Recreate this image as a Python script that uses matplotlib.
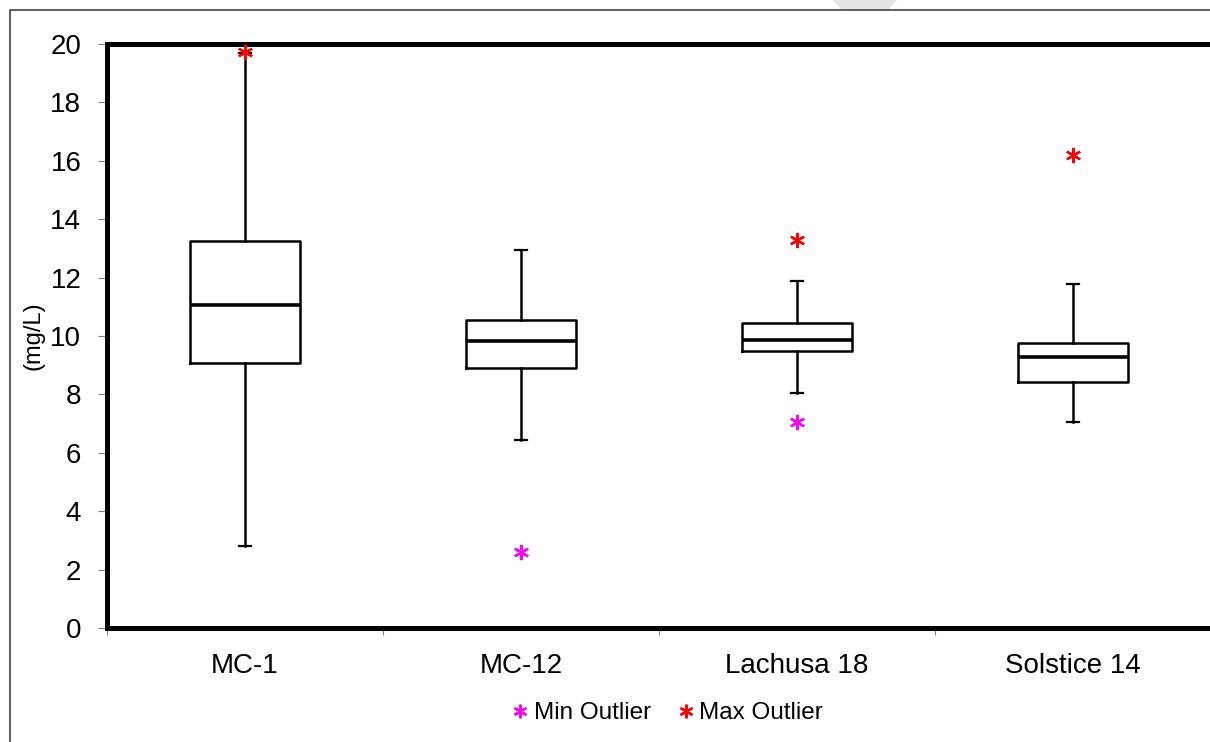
import matplotlib
matplotlib.use("Agg")
import matplotlib.pyplot as plt
from matplotlib.patches import Rectangle, Polygon
from matplotlib.ticker import FixedLocator, NullFormatter

plt.rcParams['font.family'] = ['Liberation Sans', 'DejaVu Sans']

# Summary statistics per site (mg/L)
sites = ["MC-1", "MC-12", "Lachusa 18", "Solstice 14"]
whisker_low = [2.8, 6.45, 8.05, 7.05]
q1 = [9.07, 8.9, 9.48, 8.42]
median = [11.05, 9.82, 9.86, 9.27]
q3 = [13.25, 10.55, 10.45, 9.76]
whisker_high = [19.7, 12.95, 11.88, 11.78]

# Outliers: (site index, value)
min_outlier_site = [1, 2]
min_outlier_value = [2.6, 7.07]
max_outlier_site = [0, 2, 3]
max_outlier_value = [19.72, 13.3, 16.2]

y_ticks = [0, 2, 4, 6, 8, 10, 12, 14, 16, 18, 20]

W, H = 1210, 742
fig = plt.figure(figsize=(W / 100, H / 100), dpi=100)
fig.patch.set_facecolor("white")

# Outer frame of the chart object
fig.patches.append(Rectangle((10 / W, -0.05), 1.2, 1.05 - 10 / H,
                             transform=fig.transFigure, fill=False,
                             edgecolor="#333333", linewidth=1.1, zorder=0))
# Faint grey shape peeking above the frame
fig.patches.append(Polygon([(833 / W, 1.0), (897 / W, 1.0),
                            (889 / W, 1 - 9 / H), (841 / W, 1 - 9 / H)],
                           closed=True, transform=fig.transFigure,
                           facecolor="#e4e4e4", edgecolor="none", zorder=0))

left, right = 107 / W, 1211 / W
bottom, top = 1 - 628 / H, 1 - 44 / H
ax = fig.add_axes([left, bottom, right - left, top - bottom])

positions = [i + 0.5 for i in range(len(sites))]
stats = []
for i, name in enumerate(sites):
    stats.append(dict(label=name, whislo=whisker_low[i], q1=q1[i], med=median[i],
                      q3=q3[i], whishi=whisker_high[i], fliers=[]))

ax.bxp(stats, positions=positions, widths=0.4, capwidths=0.04,
       showfliers=False, patch_artist=False,
       boxprops=dict(color="black", linewidth=1.8),
       medianprops=dict(color="black", linewidth=2.6),
       whiskerprops=dict(color="black", linewidth=1.8),
       capprops=dict(color="black", linewidth=1.6))

asterisk = (6, 2, 0)
ax.plot([positions[i] for i in min_outlier_site], min_outlier_value,
        linestyle="none", marker=asterisk, markersize=11, markeredgewidth=1.6,
        color="#ff00ff", label="Min Outlier", zorder=5)
ax.plot([positions[i] for i in max_outlier_site], max_outlier_value,
        linestyle="none", marker=asterisk, markersize=11, markeredgewidth=1.6,
        color="#ff0000", label="Max Outlier", zorder=5)

ax.set_xlim(0, len(sites))
ax.set_ylim(0, 20)
ax.set_yticks(y_ticks)
ax.set_yticklabels([str(v) for v in y_ticks])
ax.set_xticks(positions)
ax.set_xticklabels(sites)
ax.xaxis.set_minor_locator(FixedLocator(list(range(len(sites) + 1))))
ax.xaxis.set_minor_formatter(NullFormatter())

ax.tick_params(axis="y", which="major", direction="out", length=6.5, width=0.8,
               color="#808080", labelsize=20, pad=12)
ax.tick_params(axis="x", which="major", length=0, labelsize=20, pad=18)
ax.tick_params(axis="x", which="minor", direction="out", length=5, width=0.8,
               color="#808080")

for side in ["left", "bottom", "top"]:
    ax.spines[side].set_linewidth(3.6)
    ax.spines[side].set_color("black")
ax.spines["right"].set_visible(False)

ax.set_ylabel("(mg/L)", fontsize=17)
ax.yaxis.set_label_coords(-62 / ((right - left) * W), 0.5)

leg = fig.legend(loc="center", bbox_to_anchor=(668 / W, 1 - 713 / H),
                 ncol=2, frameon=False, fontsize=17.5, handlelength=0.6,
                 handletextpad=0.25, columnspacing=1.15, markerscale=0.9)

fig.savefig("out.png", dpi=100, facecolor="white")
